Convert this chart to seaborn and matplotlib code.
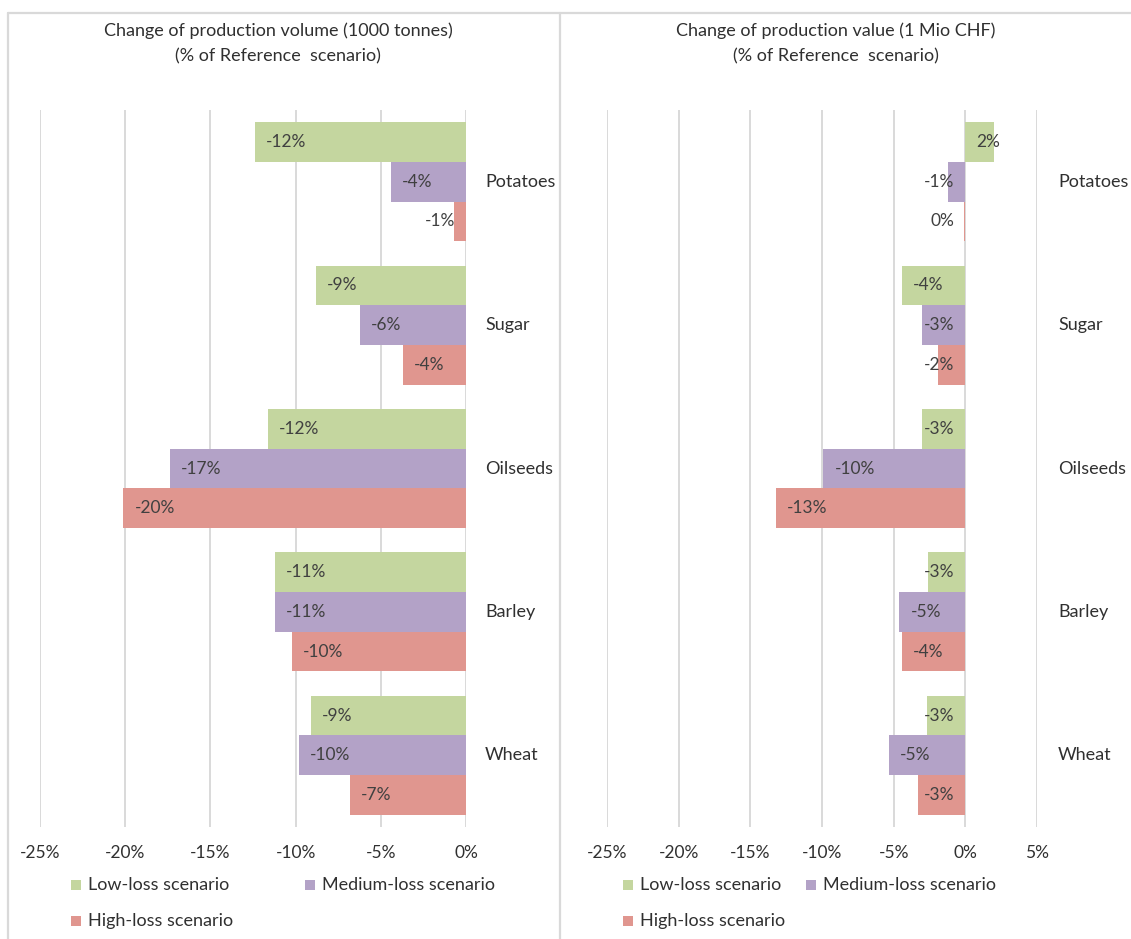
import numpy as np
import pandas as pd
import matplotlib
matplotlib.use("Agg")
import matplotlib.pyplot as plt
import matplotlib.transforms as mtransforms
from matplotlib.lines import Line2D
from matplotlib.patches import Rectangle
import seaborn as sns

# ---- data -------------------------------------------------------------
crops = ["Potatoes", "Sugar", "Oilseeds", "Barley", "Wheat"]
scenarios = ["Low-loss scenario", "Medium-loss scenario", "High-loss scenario"]

# change of production volume, % of reference scenario
volume_low = [-12.4, -8.8, -11.6, -11.2, -9.1]
volume_medium = [-4.4, -6.2, -17.4, -11.2, -9.8]
volume_high = [-0.7, -3.7, -20.1, -10.2, -6.8]

# change of production value, % of reference scenario
value_low = [2.0, -4.4, -3.0, -2.6, -2.7]
value_medium = [-1.2, -3.0, -9.9, -4.6, -5.3]
value_high = [-0.1, -1.9, -13.2, -4.4, -3.3]

volume_ticks = [-25, -20, -15, -10, -5, 0]
value_ticks = [-25, -20, -15, -10, -5, 0, 5]

titles = [
    ("Change of production volume (1000 tonnes)", "(% of Reference  scenario)"),
    ("Change of production value (1 Mio CHF)", "(% of Reference  scenario)"),
]

colors = ["#C4D69F", "#B3A2C7", "#E0968F"]
grid_col = "#D9D9D9"
text_col = "#303030"


def long_frame(low, medium, high):
    rows = []
    for series, scen in zip((low, medium, high), scenarios):
        for crop, v in zip(crops, series):
            rows.append({"crop": crop, "scenario": scen, "value": v})
    return pd.DataFrame(rows)


df_volume = long_frame(volume_low, volume_medium, volume_high)
df_value = long_frame(value_low, value_medium, value_high)

# ---- figure -----------------------------------------------------------
sns.set_theme(style="white")
plt.rcParams["font.family"] = ["Lato", "DejaVu Sans"]
FONT = 13
SMALL = 12.5

W, H = 1131, 939
fig = plt.figure(figsize=(W / 100, H / 100), dpi=100)
fig.patch.set_facecolor("white")


def px_box(x0, x1, ytop, ybot):
    return [x0 / W, 1 - ybot / H, (x1 - x0) / W, (ybot - ytop) / H]


panels = [
    dict(df=df_volume, ticks=volume_ticks, xlim=(-25, 0),
         box=px_box(40, 466, 110, 827), title_x=278, cat_x=485,
         leg_x=(71, 305)),
    dict(df=df_value, ticks=value_ticks, xlim=(-25, 5),
         box=px_box(607, 1037, 110, 827), title_x=836, cat_x=1058,
         leg_x=(623, 806)),
]

# chart frames
frame_kw = dict(color=grid_col, lw=1.6, transform=fig.transFigure)
fig.add_artist(Line2D([8 / W, 1.0], [1 - 13 / H] * 2, **frame_kw))
fig.add_artist(Line2D([8 / W] * 2, [0, 1 - 13 / H], **frame_kw))
fig.add_artist(Line2D([559.5 / W] * 2, [0, 1 - 13 / H], **frame_kw))

renderer = fig.canvas.get_renderer()

for p, (t1, t2) in zip(panels, titles):
    ax = fig.add_axes(p["box"])
    sns.barplot(data=p["df"], y="crop", x="value", hue="scenario",
                hue_order=scenarios, order=crops, orient="h",
                palette=colors, saturation=1, width=0.83, errorbar=None,
                legend=False, linewidth=0, ax=ax)
    ax.set_xlim(*p["xlim"])
    ax.set_ylim(len(crops) - 0.5, -0.5)
    ax.set_xticks(p["ticks"])
    ax.set_xticklabels([f"{t}%" for t in p["ticks"]], color=text_col,
                       fontsize=SMALL)
    ax.set_yticks([])
    ax.set_xlabel("")
    ax.set_ylabel("")
    ax.tick_params(axis="x", length=0, pad=13)
    for s in ax.spines.values():
        s.set_visible(False)
    ax.set_axisbelow(True)
    ax.grid(axis="x", color=grid_col, lw=1.4)
    ax.grid(axis="y", visible=False)
    ax.set_facecolor("none")

    # category labels to the right of the plot area
    trans = mtransforms.blended_transform_factory(fig.transFigure, ax.transData)
    for i, crop in enumerate(crops):
        ax.text(p["cat_x"] / W, i, crop, transform=trans, ha="left",
                va="center", fontsize=FONT, color=text_col)

    # value labels at the inner end of each bar
    pad = 11
    for cont in ax.containers:
        for bar, v in zip(cont, cont.datavalues):
            yc = bar.get_y() + bar.get_height() / 2
            t = ax.text(0, yc, f"{int(round(v))}%", ha="left", va="center",
                        fontsize=SMALL, color="#404040")
            w = t.get_window_extent(renderer).width
            x_end = ax.transData.transform((v, yc))[0]
            x_zero = ax.transData.transform((0, yc))[0]
            if v < 0:
                left = min(x_end + pad, x_zero - pad - w)
            else:
                left = max(x_end - pad - w, x_zero + pad)
            t.set_x(ax.transData.inverted().transform((left, 0))[0])

    # two-line title
    fig.text(p["title_x"] / W, 1 - 31 / H, t1, ha="center", va="center",
             fontsize=FONT, color=text_col)
    fig.text(p["title_x"] / W, 1 - 56 / H, t2, ha="center", va="center",
             fontsize=FONT, color=text_col)

    # legend: Low / Medium on first row, High on second
    lx1, lx2 = p["leg_x"]
    spots = [(lx1, 885), (lx2, 885), (lx1, 921)]
    for (sx, sy), scen, col in zip(spots, scenarios, colors):
        fig.add_artist(Rectangle((sx / W, 1 - (sy + 5) / H), 10 / W, 10 / H,
                                 transform=fig.transFigure, color=col, lw=0))
        fig.text((sx + 17) / W, 1 - sy / H, scen, ha="left", va="center",
                 fontsize=FONT, color=text_col)

fig.savefig("out.png", dpi=100, facecolor="white")
